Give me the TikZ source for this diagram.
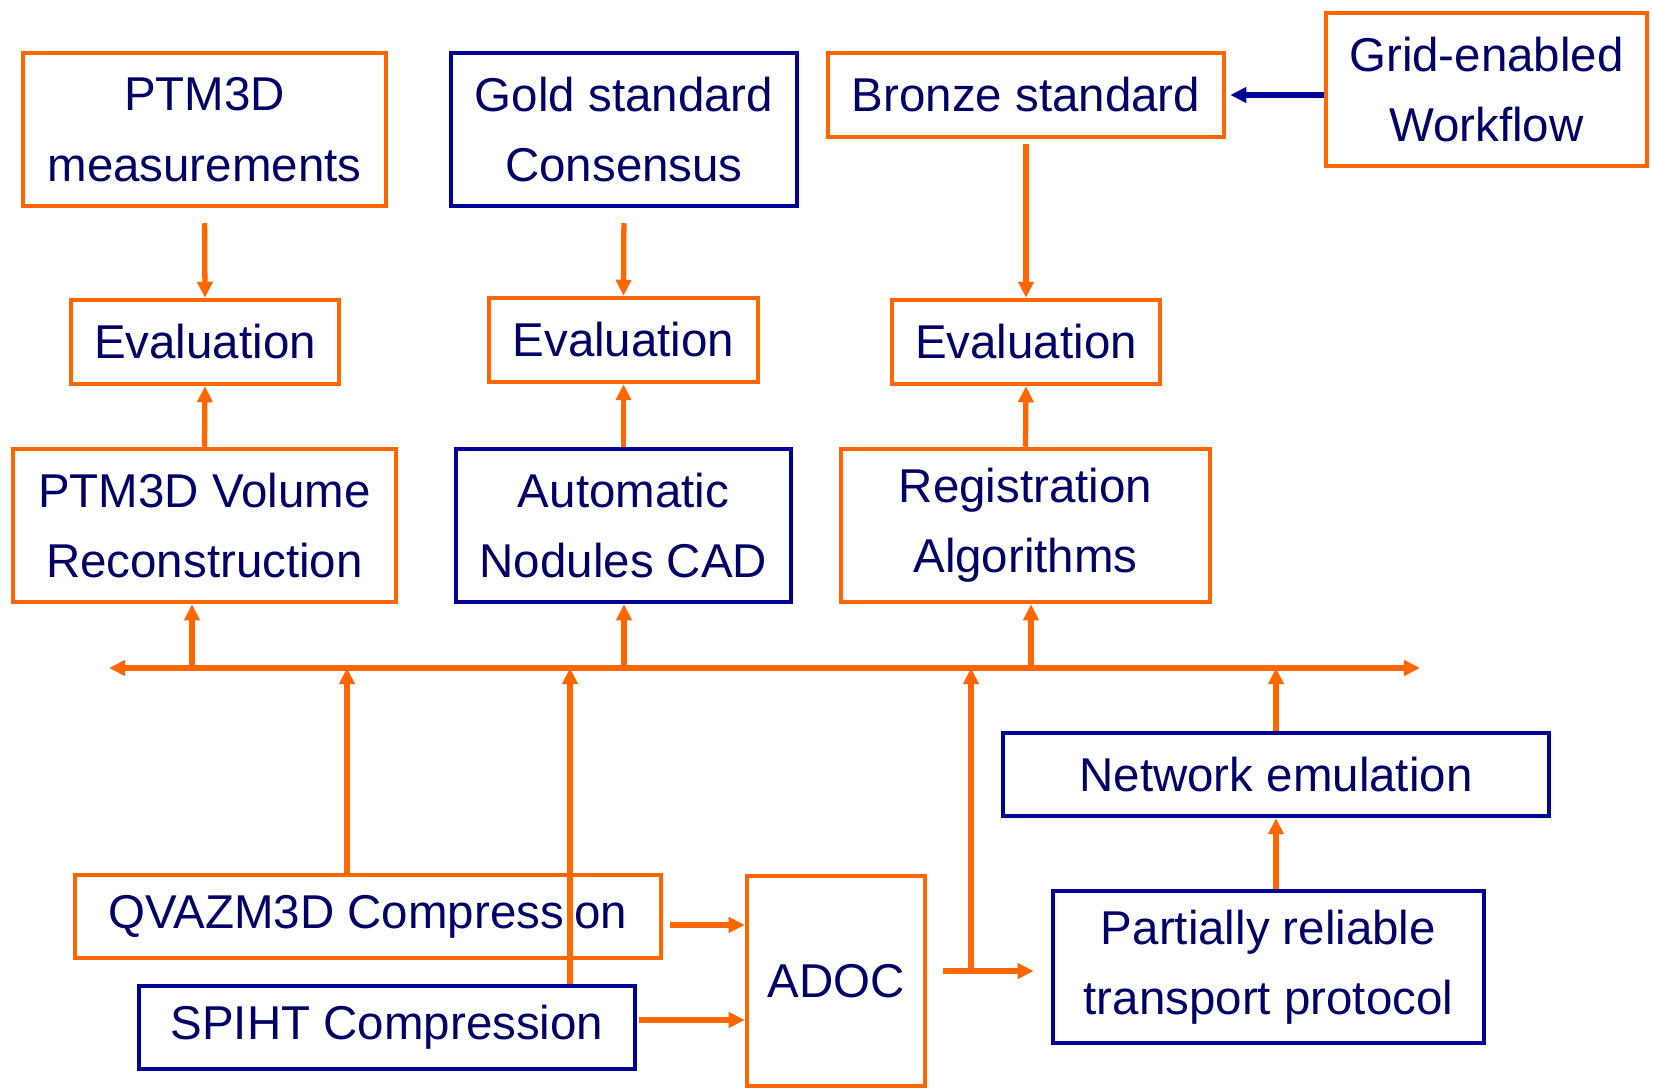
\documentclass[tikz,border=0pt]{standalone}
\usepackage{fontspec}
\setmainfont{Liberation Sans}
\usetikzlibrary{arrows.meta}
\definecolor{orng}{HTML}{FF6600}
\definecolor{navy}{HTML}{000099}
\definecolor{ink}{HTML}{000066}
\tikzset{
  box/.style={draw, line width=1.25pt, inner sep=0pt, align=center, text=ink,
    font=\fontsize{13.5}{20}\selectfont},
  obox/.style={box, draw=orng},
  bbox/.style={box, draw=navy},
  tip/.style={-{Triangle[length=0.16cm,width=0.15cm]}},
  link/.style={draw=orng, line width=1.5pt, tip},
  blink/.style={draw=navy, line width=1.5pt, tip},
  bus/.style={draw=orng, line width=1.5pt, {Triangle[length=0.16cm,width=0.15cm]}-{Triangle[length=0.16cm,width=0.15cm]}},
}

\begin{document}
\begin{tikzpicture}[x=0.01cm, y=-0.01cm]
  \useasboundingbox (0,0) rectangle (1653,1088);

  % sources of reference data
  \node[obox, minimum width=3.63cm, minimum height=1.53cm] (meas) at (204.5,129.5) {PTM3D\\measurements};
  \node[bbox, minimum width=3.46cm, minimum height=1.53cm] (gold) at (624,129.5) {Gold standard\\Consensus};
  \node[obox, minimum width=3.96cm, minimum height=0.84cm] (bronze) at (1026,95) {Bronze standard};
  \node[obox, minimum width=3.21cm, minimum height=1.53cm] (grid) at (1486.5,89.5) {Grid-enabled\\Workflow};

  % evaluations
  \node[obox, minimum width=2.68cm, minimum height=0.84cm] (eval1) at (205,342) {Evaluation};
  \node[obox, minimum width=2.69cm, minimum height=0.84cm] (eval2) at (623.5,340) {Evaluation};
  \node[obox, minimum width=2.68cm, minimum height=0.84cm] (eval3) at (1026,342) {Evaluation};

  % processing
  \node[obox, minimum width=3.83cm, minimum height=1.53cm] (vol) at (204.5,525.5) {PTM3D Volume\\Reconstruction};
  \node[bbox, minimum width=3.35cm, minimum height=1.53cm] (cad) at (623.5,525.5) {Automatic\\Nodules CAD};
  \node[obox, minimum width=3.69cm, minimum height=1.53cm] (reg) at (1025.5,525.5) {Registration\\Algorithms};

  % transport side
  \node[bbox, minimum width=5.46cm, minimum height=0.83cm] (netem) at (1276,774.5) {Network emulation};
  \node[bbox, minimum width=4.31cm, minimum height=1.52cm] (prtp) at (1268.5,967) {Partially reliable\\transport protocol};
  \node[obox, minimum width=5.86cm, minimum height=0.83cm] (qvaz) at (368,916.5) {QVAZM3D Compression};
  \node[bbox, minimum width=4.96cm, minimum height=0.83cm] (spiht) at (387,1027.5) {SPIHT Compression};
  \node[obox, minimum width=1.78cm, minimum height=2.10cm] (adoc) at (836,981) {ADOC};

  % bus and its taps
  \coordinate (busL) at (109,668);
  \coordinate (busR) at (1420,668);
  \coordinate (tapV) at (192,668);
  \coordinate (tapC) at (624,668);
  \coordinate (tapR) at (1031,668);
  \coordinate (inQ) at (347,668);
  \coordinate (inS) at (570,668);
  \coordinate (split) at (971,971);
  \coordinate (q2a) at (0,925);
  \coordinate (s2a) at (0,1020);

  \draw[bus] (busL) -- (busR);

  \draw[link, shorten <=0.15cm] (meas.south) -- (eval1.north);
  \draw[link, shorten <=0.15cm] (gold.south) -- (eval2.north);
  \draw[link, shorten <=0.05cm] (bronze.south) -- (eval3.north);
  \draw[blink, shorten >=0.04cm] (grid.west |- bronze.east) -- (bronze.east);

  \draw[link] (vol.north) -- (eval1.south);
  \draw[link] (cad.north) -- (eval2.south);
  \draw[link] (reg.north) -- (eval3.south);

  \draw[link] (tapV) -- (tapV |- vol.south);
  \draw[link] (tapC) -- (tapC |- cad.south);
  \draw[link] (tapR) -- (tapR |- reg.south);

  \draw[link] (qvaz.north -| inQ) -- (inQ);
  \draw[link] (spiht.north -| inS) -- (inS);
  \draw[link] (netem.north) -- (netem.north |- busL);
  \draw[link] (prtp.north -| netem.south) -- (netem.south);

  \draw[link, shorten <=0.07cm] (qvaz.east |- q2a) -- (adoc.west |- q2a);
  \draw[link, shorten <=0.02cm] (spiht.east |- s2a) -- (adoc.west |- s2a);
  \draw[link] (split) -- (split |- busL);
  \draw[link, shorten <=0.16cm, shorten >=0.17cm] (adoc.east |- split) -- (prtp.west |- split);
\end{tikzpicture}
\end{document}
